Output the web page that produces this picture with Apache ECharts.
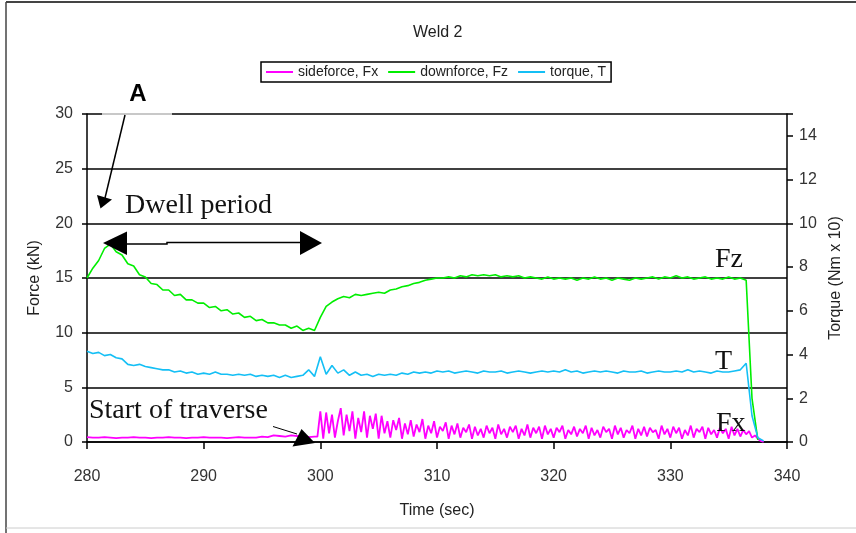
<!DOCTYPE html>
<html>
<head>
<meta charset="utf-8">
<title>Weld 2</title>
<script src="https://cdn.jsdelivr.net/npm/echarts@6/dist/echarts.min.js"></script>
<style>
	html, body { margin: 0; padding: 0; background: #fff; }
	#main { width: 856px; height: 533px; }
</style>
</head>
<body>
<div id="main"></div>
<script>
// time axis samples (sec)
var fzStart = 280, fzStep = 0.5;
var tStart = 280, tStep = 0.5;
var fxPreStart = 280, fxPreStep = 0.5;
var fxTrvStart = 299.75, fxTrvStep = 0.25;

var xTicks = [280, 290, 300, 310, 320, 330, 340];

// downforce Fz (kN)
var fzValues = [
	15.0, 15.9, 16.6, 17.7, 18.1, 17.4, 17.1, 16.3, 16.1, 15.3,
	15.1, 14.5, 14.4, 13.9, 13.9, 13.4, 13.5, 13.0, 13.0, 12.7,
	12.7, 12.3, 12.4, 12.0, 12.1, 11.7, 11.8, 11.4, 11.5, 11.1,
	11.2, 10.9, 10.9, 10.7, 10.7, 10.4, 10.6, 10.2, 10.4, 10.2,
	11.4, 12.4, 12.8, 13.1, 13.3, 13.2, 13.5, 13.4, 13.5, 13.6,
	13.7, 13.6, 13.9, 14.0, 14.2, 14.3, 14.5, 14.6, 14.8, 14.9,
	15.0, 15.0, 15.1, 15.0, 15.2, 15.1, 15.3, 15.2, 15.3, 15.2,
	15.3, 15.1, 15.2, 15.1, 15.2, 15.0, 15.1, 15.0, 14.9, 15.1,
	14.9, 15.0, 14.9, 15.0, 14.8, 15.0, 14.9, 15.1, 14.9, 15.0,
	14.8, 15.0, 14.9, 14.8, 15.0, 14.9, 15.0, 15.1, 14.9, 15.1,
	15.0, 15.2, 15.0, 15.1, 14.9, 15.0, 15.1, 14.9, 15.0, 14.9,
	15.1, 14.9, 15.0, 14.8, 4.0, 0.2
];

// torque T (Nm x 10)
var tValues = [
	4.15, 4.05, 4.1, 3.95, 4.0, 3.85, 3.8, 3.55, 3.5, 3.55,
	3.45, 3.4, 3.35, 3.3, 3.3, 3.2, 3.25, 3.15, 3.2, 3.1,
	3.15, 3.1, 3.2, 3.1, 3.1, 3.05, 3.1, 3.05, 3.1, 3.0,
	3.05, 3.0, 3.05, 2.95, 3.05, 2.95, 3.0, 3.05, 3.3, 3.0,
	3.9, 3.1, 3.5, 3.15, 3.3, 3.05, 3.2, 3.05, 3.1, 3.0,
	3.1, 3.05, 3.1, 3.05, 3.15, 3.1, 3.2, 3.15, 3.2, 3.15,
	3.25, 3.2, 3.25, 3.15, 3.2, 3.25, 3.2, 3.15, 3.25, 3.2,
	3.2, 3.25, 3.15, 3.2, 3.25, 3.2, 3.15, 3.2, 3.25, 3.2,
	3.25, 3.2, 3.3, 3.2, 3.25, 3.15, 3.2, 3.25, 3.2, 3.25,
	3.2, 3.15, 3.25, 3.2, 3.2, 3.25, 3.15, 3.2, 3.25, 3.2,
	3.2, 3.25, 3.2, 3.3, 3.2, 3.25, 3.2, 3.15, 3.25, 3.2,
	3.2, 3.25, 3.3, 3.6, 1.2, 0.2, 0.05
];

// sideforce Fx (kN), dwell part
var fxPreValues = [
	0.45, 0.4, 0.4, 0.45, 0.4, 0.35, 0.4, 0.4, 0.45, 0.4,
	0.4, 0.35, 0.4, 0.4, 0.45, 0.4, 0.4, 0.35, 0.4, 0.4,
	0.45, 0.4, 0.4, 0.4, 0.35, 0.4, 0.45, 0.4, 0.4, 0.4,
	0.5, 0.45, 0.6, 0.55, 0.5, 0.6, 0.55, 0.5, 0.45, 0.5
];
// sideforce Fx (kN), traverse part
var fxTrvValues = [
	0.5, 2.8, 0.3, 2.7, 0.8, 2.5, 0.4, 1.9,
	3.1, 0.6, 2.5, 1.0, 2.8, 0.3, 2.2, 0.9,
	2.8, 0.4, 2.4, 1.2, 2.6, 0.3, 2.4, 0.8,
	1.9, 0.4, 2.0, 1.1, 2.2, 0.3, 1.7, 0.7,
	2.0, 0.5, 1.6, 0.9, 2.1, 0.3, 1.5, 0.8,
	1.9, 0.4, 1.4, 1.0, 1.8, 0.3, 1.5, 0.7,
	1.7, 0.4, 1.3, 0.9, 1.6, 0.3, 1.4, 0.6,
	1.2, 0.4, 1.5, 0.8, 1.3, 0.3, 1.6, 0.7,
	1.2, 0.4, 1.4, 0.9, 1.5, 0.3, 1.2, 0.6,
	1.6, 0.4, 1.3, 0.8, 1.4, 0.3, 1.5, 0.7,
	1.2, 0.4, 1.3, 0.9, 1.5, 0.3, 1.1, 0.7,
	1.4, 0.5, 1.2, 0.8, 1.5, 0.3, 1.3, 0.6,
	1.1, 0.4, 1.4, 0.9, 1.2, 0.3, 1.5, 0.7,
	1.3, 0.4, 1.1, 0.8, 1.5, 0.3, 1.2, 0.6,
	1.4, 0.5, 1.3, 0.9, 1.1, 0.3, 1.5, 0.7,
	1.2, 0.4, 1.4, 0.8, 1.3, 0.3, 1.1, 0.6,
	1.5, 0.4, 1.2, 0.9, 1.4, 0.3, 1.3, 0.7,
	1.1, 0.4, 1.3, 0.8, 1.2, 0.3, 1.4, 0.6,
	1.2, 0.5, 1.1, 0.7, 1.0, 0.4, 0.6, 0.3,
	0.1, 0
];

function toPairs(start, step, vals) {
	var out = [];
	for (var i = 0; i < vals.length; i++) {
		out.push([start + i * step, vals[i]]);
	}
	return out;
}

var fzData = toPairs(fzStart, fzStep, fzValues);
var tData = toPairs(tStart, tStep, tValues);
var fxData = toPairs(fxPreStart, fxPreStep, fxPreValues).concat(toPairs(fxTrvStart, fxTrvStep, fxTrvValues));

var sans = 'Liberation Sans, Arial, sans-serif';
var serif = 'Liberation Serif, Times New Roman, serif';

var myChart = echarts.init(document.getElementById('main'));
var option = {
	animation: false,
	backgroundColor: '#fff',
	title: {
		text: 'Weld 2',
		left: 413,
		top: 25,
		padding: 0,
		textStyle: { fontFamily: sans, fontSize: 16, fontWeight: 'normal', color: '#222' }
	},
	legend: {
		left: 261,
		top: 62,
		padding: [3, 5],
		borderColor: '#000',
		borderWidth: 1.5,
		icon: 'rect',
		itemWidth: 27,
		itemHeight: 2,
		itemGap: 10,
		textStyle: { fontFamily: sans, fontSize: 14, color: '#222' },
		data: ['sideforce, Fx', 'downforce, Fz', 'torque, T']
	},
	grid: { left: 87, right: 69, top: 114, bottom: 91 },
	xAxis: {
		type: 'value',
		min: xTicks[0],
		max: xTicks[xTicks.length - 1],
		interval: 10,
		name: 'Time (sec)',
		nameLocation: 'middle',
		nameGap: 61,
		nameTextStyle: { fontFamily: sans, fontSize: 16, color: '#222' },
		axisLine: { lineStyle: { color: '#000', width: 1.5 } },
		axisTick: { length: 7, lineStyle: { color: '#000', width: 1.5 } },
		axisLabel: { margin: 27, fontFamily: sans, fontSize: 16, color: '#333' },
		splitLine: { show: false }
	},
	yAxis: [{
		type: 'value',
		min: 0,
		max: 30,
		interval: 5,
		position: 'left',
		name: 'Force (kN)',
		nameLocation: 'middle',
		nameGap: 44,
		nameTextStyle: { fontFamily: sans, fontSize: 16, color: '#222' },
		axisLine: { show: true, lineStyle: { color: '#000', width: 1.5 } },
		axisTick: { show: true, length: 5, lineStyle: { color: '#000', width: 1.5 } },
		axisLabel: { margin: 14, fontFamily: sans, fontSize: 16, color: '#333' },
		splitLine: { show: true, lineStyle: { color: '#000', width: 1.5 } }
	}, {
		type: 'value',
		min: 0,
		max: 15,
		interval: 2,
		position: 'right',
		name: 'Torque (Nm x 10)',
		nameLocation: 'middle',
		nameGap: 40,
		nameRotate: 90,
		nameTextStyle: { fontFamily: sans, fontSize: 16, color: '#222' },
		axisLine: { show: true, lineStyle: { color: '#000', width: 1.5 } },
		axisTick: { show: true, length: 6, lineStyle: { color: '#000', width: 1.5 } },
		axisLabel: {
			margin: 12, fontFamily: sans, fontSize: 16, color: '#333',
			formatter: function (v) { return v % 2 === 0 ? v : ''; }
		},
		splitLine: { show: false }
	}],
	series: [{
		name: 'sideforce, Fx',
		type: 'line',
		yAxisIndex: 0,
		data: fxData,
		showSymbol: false,
		color: '#ff00ff',
		lineStyle: { color: '#ff00ff', width: 1.8 },
		z: 2
	}, {
		name: 'downforce, Fz',
		type: 'line',
		yAxisIndex: 0,
		data: fzData,
		showSymbol: false,
		color: '#00ee00',
		lineStyle: { color: '#00ee00', width: 1.6 },
		z: 3
	}, {
		name: 'torque, T',
		type: 'line',
		yAxisIndex: 1,
		data: tData,
		showSymbol: false,
		color: '#14bff5',
		lineStyle: { color: '#14bff5', width: 1.6 },
		z: 4
	}],
	graphic: [
		// outer frame of the figure
		{ type: 'line', z: 100, shape: { x1: 6, y1: 2, x2: 856, y2: 2 }, style: { stroke: '#444', lineWidth: 2 } },
		{ type: 'line', z: 100, shape: { x1: 6, y1: 2, x2: 6, y2: 533 }, style: { stroke: '#444', lineWidth: 1.5 } },
		{ type: 'line', z: 100, shape: { x1: 6, y1: 528, x2: 856, y2: 528 }, style: { stroke: '#ccc', lineWidth: 1 } },
		// light piece on the top gridline
		{ type: 'line', z: 100, shape: { x1: 102, y1: 114, x2: 172, y2: 114 }, style: { stroke: '#c8c8c8', lineWidth: 2 } },
		// A
		{ type: 'text', z: 101, style: { text: 'A', x: 138, y: 94, textAlign: 'center', textVerticalAlign: 'middle', font: 'bold 24px ' + sans, fill: '#000' } },
		{ type: 'line', z: 101, shape: { x1: 125, y1: 115, x2: 105, y2: 198 }, style: { stroke: '#000', lineWidth: 1.5 } },
		{ type: 'polygon', z: 101, shape: { points: [[100.5, 208.5], [97, 195], [112, 199.5]] }, style: { fill: '#000' } },
		// Dwell period
		{ type: 'text', z: 101, style: { text: 'Dwell period', x: 125, y: 206, textVerticalAlign: 'middle', font: '28px ' + serif, fill: '#111' } },
		{ type: 'polyline', z: 101, shape: { points: [[127, 244], [167, 244], [167, 242.5], [300, 242.5]] }, style: { stroke: '#000', lineWidth: 1.5 } },
		{ type: 'polygon', z: 101, shape: { points: [[103, 243], [127, 231.5], [127, 255]] }, style: { fill: '#000' } },
		{ type: 'polygon', z: 101, shape: { points: [[322, 243], [300, 231], [300, 255]] }, style: { fill: '#000' } },
		// curve labels
		{ type: 'text', z: 101, style: { text: 'Fz', x: 715, y: 260, textVerticalAlign: 'middle', font: '28px ' + serif, fill: '#111' } },
		{ type: 'text', z: 101, style: { text: 'T', x: 715, y: 362, textVerticalAlign: 'middle', font: '28px ' + serif, fill: '#111' } },
		{ type: 'text', z: 101, style: { text: 'Fx', x: 716, y: 424, textVerticalAlign: 'middle', font: '28px ' + serif, fill: '#111' } },
		// Start of traverse
		{ type: 'text', z: 101, style: { text: 'Start of traverse', x: 89, y: 411, textVerticalAlign: 'middle', font: '28px ' + serif, fill: '#111' } },
		{ type: 'line', z: 101, shape: { x1: 273, y1: 426.5, x2: 297, y2: 434 }, style: { stroke: '#000', lineWidth: 1 } },
		{ type: 'polygon', z: 101, shape: { points: [[315, 443], [292.5, 446.5], [301.5, 429]] }, style: { fill: '#000' } }
	]
};
myChart.setOption(option);
</script>
</body>
</html>
